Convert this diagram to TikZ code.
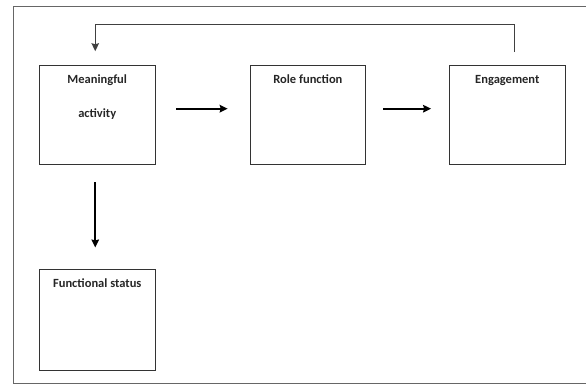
\documentclass[tikz,border=0pt]{standalone}
\usepackage{fontspec}
\setmainfont{Carlito}
\usetikzlibrary{positioning}
\usetikzlibrary{arrows.meta}
\tikzset{
    % Arrow heads for every connector
    >={Stealth[length=8pt, width=7.5pt, inset=1pt]},
%
    % An empty square box for one concept
    concept box/.style={
        draw=black!80, line width=0.9pt, inner sep=0,
        minimum width=115.5pt, minimum height=99pt},
%
    % Bold title sitting at the top of a box
    box title/.style={
        font=\fontsize{12.5}{15}\selectfont\bfseries,
        align=center, inner sep=0, text=black!85},
    % The heavy arrows between boxes
    flow arrow/.style={->, line width=2pt},
    % The thin line feeding back to the start
    feedback line/.style={->, draw=black!75, line width=1.1pt},
    % Frame round the whole figure
    frame line/.style={draw=black!60, line width=0.9pt}}

\begin{document}
\begin{tikzpicture}[x=1pt, y=1pt]
\useasboundingbox (0,0) rectangle (586,385);

\draw[frame line] (586,378.5) -- (13,378.5) -- (13,1.5) -- (586,1.5);

\node [concept box,
    label={[box title, anchor=north, yshift=-9.5pt]north:{Meaningful\\[19pt]activity}}]
    (meaningful) at (97.25,269.8) {};
\node [concept box,
    label={[box title, anchor=north, yshift=-9.5pt]north:Role function}]
    (role) at (307.9,269.8) {};
\node [concept box,
    label={[box title, anchor=north, yshift=-9.5pt]north:Engagement}]
    (engagement) at (507.3,269.8) {};
\node [concept box, minimum height=100.7pt,
    label={[box title, anchor=north, yshift=-9.5pt]north:Functional status}]
    (functional) at (97.25,64.7) {};

\draw[flow arrow, shorten <=21pt, shorten >=22pt]
    ([yshift=6.5pt]meaningful.east) -- ([yshift=6.5pt]role.west);
\draw[flow arrow, shorten <=17pt, shorten >=18pt]
    ([yshift=6.5pt]role.east) -- ([yshift=6.5pt]engagement.west);
\draw[flow arrow, shorten <=17pt, shorten >=22pt]
    ([xshift=-2pt]meaningful.south) -- ([xshift=-2pt]functional.north);

% back from engagement to the first box
\draw[feedback line, shorten >=14pt]
    ([xshift=7pt]engagement.north) ++(0,13) -- ++(0,27.7)
    -| ([xshift=-2pt]meaningful.north);

\end{tikzpicture}
\end{document}
